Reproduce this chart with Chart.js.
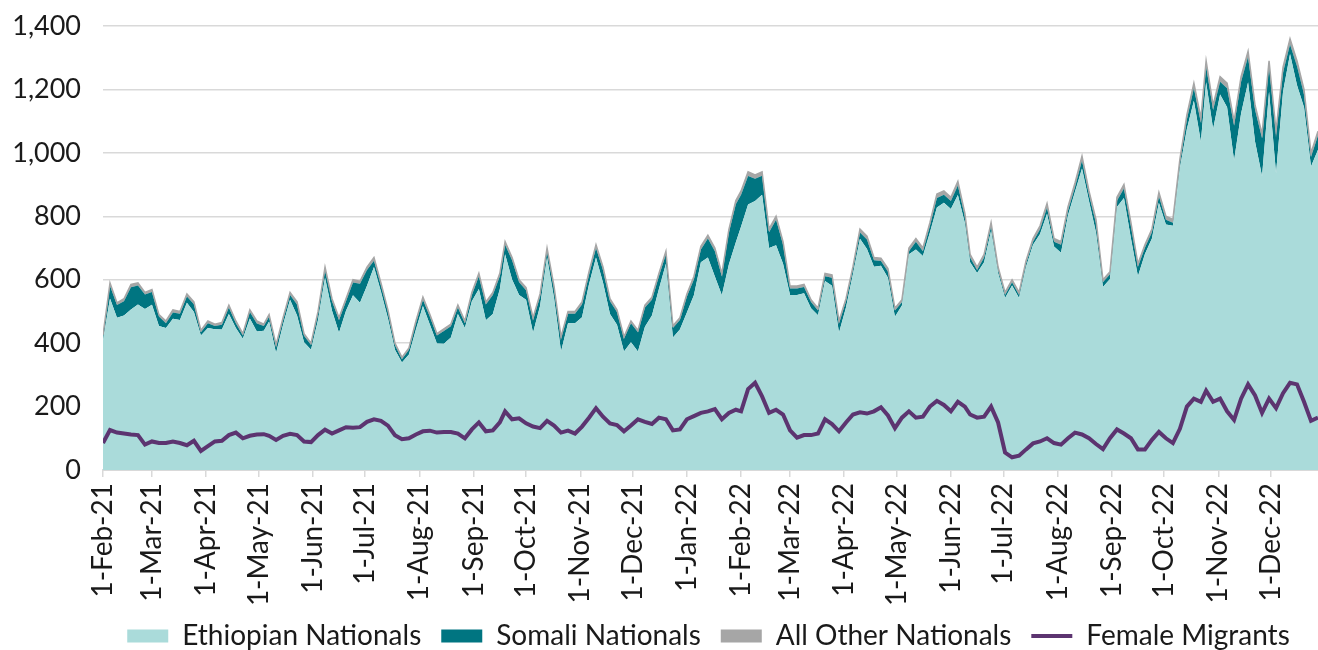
<!DOCTYPE html>
<html>
<head>
<meta charset="utf-8">
<script src="https://cdn.jsdelivr.net/npm/chart.js@4"></script>
<style>
  html, body { margin: 0; padding: 0; background: #fff; }
  #wrap { width: 1318px; height: 650px; }
</style>
</head>
<body>
<div id="wrap"><canvas id="chart"></canvas></div>
<script>
// day offsets from 1-Feb-21 for each sampled point
const DAYS = [
  0, 4, 8, 12, 16, 20, 24, 28, 32, 36, 40, 44, 48, 52, 56, 60, 64, 68, 72, 76, 80, 84, 88, 92, 95, 99, 103, 107, 111, 115,
  119, 123, 127, 131, 135, 139, 143, 147, 151, 155, 159, 163, 167, 171, 175, 179, 183, 187, 191, 195, 199, 203, 207, 211, 215, 219, 223, 227,
  230, 234, 238, 242, 246, 250, 254, 258, 262, 266, 270, 274, 278, 282, 286, 290, 294, 298, 302, 306, 310, 314, 318, 322, 326, 330, 334, 338, 342,
  346, 350, 354, 358, 362, 365, 369, 373, 377, 381, 385, 389, 393, 397, 401, 405, 409, 413, 417, 421, 425, 429, 433, 437, 441, 445, 449, 453, 457,
  461, 465, 469, 473, 477, 481, 485, 489, 493, 496, 500, 504, 508, 512, 516, 520, 524, 528, 532, 536, 540, 544, 548, 552, 556, 560, 564, 568, 572,
  576, 580, 584, 588, 592, 596, 600, 604, 608, 612, 616, 620, 624, 628, 631, 635, 639, 643, 647, 651, 655, 659, 663, 667, 671, 675, 679, 683, 687, 691, 695
];

const ETHIOPIAN = [
  408, 541, 480, 487, 506, 522, 508, 521, 454, 448, 477, 473, 527, 498, 424, 448, 444, 443, 492, 448, 414, 478, 437, 439, 468, 369, 458, 537, 487, 403,
  379, 473, 606, 502, 433, 502, 551, 527, 581, 640, 562, 478, 379, 339, 364, 443, 517, 458, 399, 398, 418, 492, 448, 532, 571, 472, 492, 571,
  680, 601, 552, 537, 433, 517, 670, 542, 374, 463, 463, 482, 586, 670, 591, 492, 458, 374, 403, 374, 452, 487, 571, 650, 418, 443, 497, 551, 655,
  670, 610, 551, 648, 718, 768, 837, 848, 868, 700, 709, 650, 552, 552, 557, 510, 488, 596, 581, 433, 512, 618, 729, 697, 641, 644, 606, 483, 519,
  680, 695, 675, 749, 828, 843, 823, 867, 779, 655, 621, 655, 754, 621, 542, 582, 542, 641, 710, 744, 808, 705, 685, 803, 877, 951, 848, 749, 577,
  602, 829, 858, 730, 611, 681, 730, 843, 774, 770, 952, 1075, 1164, 1035, 1223, 1075, 1184, 1144, 976, 1124, 1223, 1035, 926, 1193, 936, 1193, 1312, 1213, 1144, 957, 1010
];

const SOMALI = [
  10, 40, 40, 45, 70, 60, 45, 40, 30, 15, 20, 20, 20, 25, 10, 15, 10, 15, 20, 15, 10, 20, 25, 15, 15, 20, 15, 15, 35, 20,
  15, 20, 25, 30, 40, 30, 40, 60, 50, 20, 20, 20, 15, 10, 15, 20, 20, 25, 25, 40, 35, 20, 15, 20, 40, 50, 60, 40,
  30, 60, 40, 30, 40, 30, 20, 30, 40, 30, 30, 40, 30, 30, 40, 40, 40, 40, 60, 60, 60, 50, 40, 30, 30, 30, 50, 50, 40,
  60, 80, 60, 100, 120, 100, 90, 70, 60, 50, 80, 60, 20, 20, 20, 20, 15, 15, 25, 30, 20, 15, 20, 30, 20, 15, 20, 20, 10,
  10, 25, 15, 20, 30, 25, 25, 30, 20, 15, 10, 15, 15, 10, 10, 10, 10, 10, 10, 15, 20, 15, 25, 15, 15, 25, 20, 30, 15,
  15, 20, 30, 40, 30, 20, 20, 20, 15, 10, 15, 30, 40, 60, 50, 60, 40, 60, 110, 100, 80, 100, 120, 80, 120, 60, 30, 60, 40, 30, 45
];

const OTHER = [
  8, 9, 7, 8, 9, 8, 7, 8, 6, 7, 8, 7, 8, 7, 6, 7, 6, 7, 8, 7, 6, 7, 8, 6, 7, 6, 7, 8, 8, 7,
  6, 7, 9, 8, 7, 8, 9, 8, 9, 10, 8, 7, 6, 6, 6, 7, 8, 7, 6, 7, 7, 8, 7, 8, 9, 8, 8, 9,
  10, 9, 8, 8, 7, 8, 10, 8, 6, 7, 7, 8, 9, 10, 9, 8, 7, 6, 7, 6, 8, 8, 9, 10, 7, 7, 8, 9, 10,
  10, 10, 9, 10, 12, 12, 13, 12, 12, 10, 11, 10, 8, 8, 8, 7, 7, 9, 9, 7, 8, 9, 11, 10, 9, 9, 9, 7, 8,
  10, 10, 10, 11, 12, 12, 12, 13, 11, 10, 9, 10, 11, 9, 8, 8, 8, 9, 10, 11, 12, 10, 10, 12, 13, 14, 12, 11, 8,
  8, 11, 12, 10, 9, 9, 10, 12, 11, 10, 13, 15, 16, 15, 17, 15, 16, 16, 14, 16, 17, 15, 14, 17, 14, 17, 18, 17, 16, 13, 13
];

const FEMALE = [
  85, 126, 118, 115, 112, 110, 80, 90, 85, 85, 90, 85, 78, 92, 60, 75, 90, 92, 110, 118, 100, 108, 112, 113, 108, 95, 108, 114, 110, 90,
  88, 110, 127, 115, 125, 135, 133, 135, 152, 160, 155, 140, 110, 97, 100, 112, 122, 124, 118, 120, 120, 115, 100, 128, 150, 122, 125, 150,
  185, 160, 163, 147, 137, 132, 155, 140, 118, 124, 115, 137, 165, 195, 168, 147, 142, 122, 140, 160, 152, 145, 165, 160, 125, 128, 160, 170, 180,
  185, 192, 160, 180, 190, 185, 255, 275, 232, 180, 190, 175, 125, 102, 110, 110, 115, 160, 145, 122, 150, 175, 182, 178, 185, 198, 172, 132, 165,
  185, 165, 168, 200, 218, 205, 185, 215, 200, 175, 165, 168, 200, 150, 55, 40, 45, 65, 84, 90, 100, 85, 80, 100, 118, 112, 100, 82, 66,
  100, 128, 115, 100, 65, 65, 95, 120, 100, 85, 130, 200, 225, 215, 250, 215, 225, 185, 158, 225, 270, 235, 180, 225, 195, 242, 275, 270, 215, 155, 165
];

const MONTH_DAYS = [0, 28, 59, 89, 120, 150, 181, 212, 242, 273, 303, 334, 365, 393, 424, 454, 485, 515, 546, 577, 607, 638, 668];
const MONTH_LABELS = [
  '1-Feb-21', '1-Mar-21', '1-Apr-21', '1-May-21', '1-Jun-21', '1-Jul-21', '1-Aug-21', '1-Sep-21', '1-Oct-21', '1-Nov-21', '1-Dec-21',
  '1-Jan-22', '1-Feb-22', '1-Mar-22', '1-Apr-22', '1-May-22', '1-Jun-22', '1-Jul-22', '1-Aug-22', '1-Sep-22', '1-Oct-22', '1-Nov-22', '1-Dec-22'
];

const FONT = 'Lato';
const GRID = '#d9d9d9';
const INK = '#1a1a1a';

const points = arr => arr.map((v, i) => ({ x: DAYS[i], y: v }));

// the legend row in the original sits right of centre and low on the page
const legendPlace = {
  id: 'legendPlace',
  afterLayout(chart) {
    const lg = chart.legend;
    lg.left = 99;
    lg.top = 602;
    lg.bottom = 650;
    lg.height = 48;
  }
};

new Chart(document.getElementById('chart'), {
  type: 'line',
  data: {
    datasets: [
      {
        label: 'Ethiopian Nationals',
        data: points(ETHIOPIAN),
        backgroundColor: '#aadbda',
        borderColor: '#aadbda',
        borderWidth: 0,
        fill: 'origin',
        stack: 'nat'
      },
      {
        label: 'Somali Nationals',
        data: points(SOMALI),
        backgroundColor: '#007581',
        borderColor: '#007581',
        borderWidth: 0,
        fill: '-1',
        stack: 'nat'
      },
      {
        label: 'All Other Nationals',
        data: points(OTHER),
        backgroundColor: '#a6a6a6',
        borderColor: '#a6a6a6',
        borderWidth: 1.5,
        fill: '-1',
        stack: 'nat'
      },
      {
        label: 'Female Migrants',
        data: points(FEMALE),
        borderColor: '#5c3470',
        backgroundColor: '#5c3470',
        borderWidth: 4,
        fill: false,
        stack: 'fem'
      }
    ]
  },
  plugins: [legendPlace],
  options: {
    responsive: true,
    maintainAspectRatio: false,
    animation: false,
    elements: { point: { radius: 0 }, line: { tension: 0 } },
    layout: { padding: { top: 26, right: 0, left: 0, bottom: 0 } },
    scales: {
      x: {
        type: 'linear',
        min: 0,
        max: 695,
        afterBuildTicks: scale => { scale.ticks = MONTH_DAYS.map(v => ({ value: v })); },
        afterFit: scale => { scale.height = 140; },
        ticks: {
          autoSkip: false,
          maxRotation: 90,
          minRotation: 90,
          padding: 6,
          color: INK,
          font: { family: FONT, size: 28 },
          callback: v => MONTH_LABELS[MONTH_DAYS.indexOf(v)]
        },
        grid: { drawOnChartArea: false, drawTicks: true, tickLength: 7, color: GRID, lineWidth: 1.5 },
        border: { display: true, color: GRID, width: 2 }
      },
      y: {
        stacked: true,
        min: 0,
        max: 1400,
        afterFit: scale => {
          scale.width = 103;
          scale.paddingTop = 0;
          scale.paddingBottom = 0;
        },
        ticks: {
          stepSize: 200,
          padding: 22,
          color: INK,
          font: { family: FONT, size: 27 },
          callback: v => v.toLocaleString('en-US')
        },
        grid: { color: GRID, lineWidth: 1.5, drawTicks: false },
        border: { display: false }
      }
    },
    plugins: {
      filler: { drawTime: 'beforeDatasetsDraw' },
      tooltip: { enabled: false },
      legend: {
        position: 'bottom',
        maxHeight: 40,
        labels: {
          color: INK,
          font: { family: FONT, size: 28 },
          usePointStyle: true,
          pointStyleWidth: 41,
          boxHeight: 13,
          padding: 20,
          generateLabels: chart => {
            const items = Chart.defaults.plugins.legend.labels.generateLabels(chart);
            items.forEach(item => {
              if (item.datasetIndex === 3) {
                item.pointStyle = 'line';
                item.lineWidth = 4;
              } else {
                item.pointStyle = 'rect';
                item.lineWidth = 0;
              }
            });
            return items;
          }
        }
      }
    }
  }
});
</script>
</body>
</html>
